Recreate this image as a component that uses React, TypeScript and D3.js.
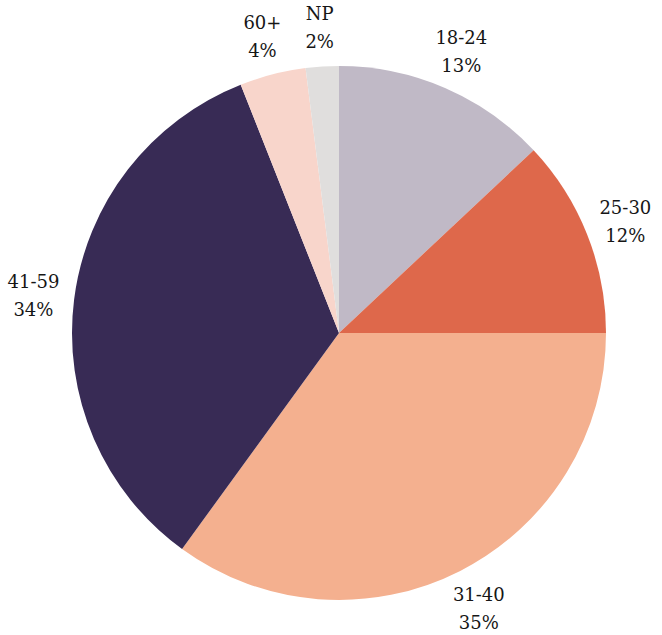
import React from "react";
import * as d3 from "d3";

const categories = ["18-24", "25-30", "31-40", "41-59", "60+", "NP"];
const values = [13, 12, 35, 34, 4, 2];
const colors = ["#c0b9c6", "#de684b", "#f4b08f", "#382b55", "#f8d5cb", "#e0dedd"];

const W = 662;
const H = 635;
const cx = 339;
const cy = 333;
const R = 267;
const labelR = 308;

export default function App() {
  const data = categories.map((c, i) => ({ label: c, value: values[i], color: colors[i] }));
  const pie = d3.pie<any>().value((d) => d.value).sort(null);
  const arcs = pie(data);
  const arc = d3.arc<any>().innerRadius(0).outerRadius(R);
  const labelArc = d3.arc<any>().innerRadius(labelR).outerRadius(labelR);
  return (
    <div style={{ position: "absolute", left: 0, top: 0 }}>
      <svg width={W} height={H} style={{ display: "block" }}>
        <g transform={`translate(${cx},${cy})`}>
          {arcs.map((a, i) => (
            <path key={i} d={arc(a) as string} fill={a.data.color} />
          ))}
          {arcs.map((a, i) => {
            const [x, y] = labelArc.centroid(a);
            return (
              <text
                key={"l" + i}
                textAnchor="middle"
                fontFamily="DejaVu Serif"
                fontSize={18}
                fill="#161616"
              >
                <tspan x={x} y={y - 6}>{a.data.label}</tspan>
                <tspan x={x} y={y + 22}>{a.data.value + "%"}</tspan>
              </text>
            );
          })}
        </g>
      </svg>
    </div>
  );
}
